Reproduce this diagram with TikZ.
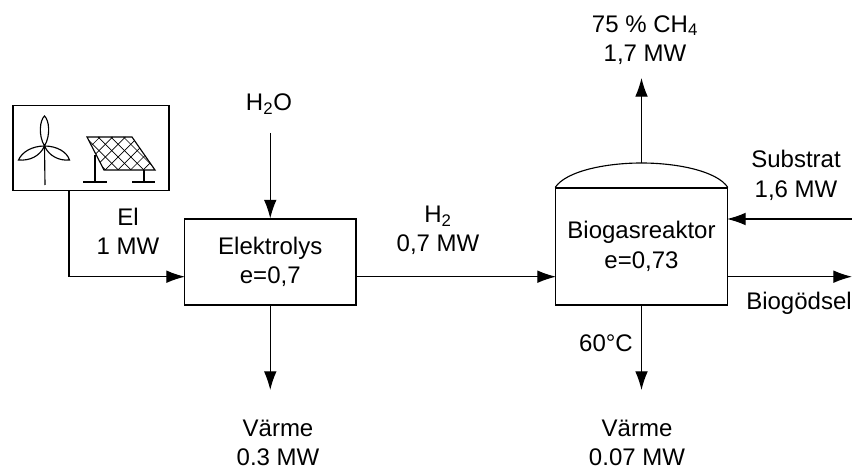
\documentclass[tikz,border=0pt]{standalone}
\usepackage{fontspec}
\setmainfont{Liberation Sans}
\usetikzlibrary{arrows.meta,positioning,calc}

\begin{document}
\begin{tikzpicture}[x=0.75pt,y=-0.75pt,>={Latex[length=14pt,width=9.5pt]},line width=0.85pt]
\tikzstyle{blk}=[draw,align=center,minimum width=128.6pt,minimum height=64.5pt,inner sep=0pt,font=\fontsize{18}{22}\selectfont]
\tikzstyle{reablk}=[blk,minimum height=87.75pt]
\tikzstyle{lbl}=[align=center,inner sep=0pt,font=\fontsize{18}{22}\selectfont]
\useasboundingbox (0,0) rectangle (852,470);
\node[blk] (ely) at (270.25,262) {Elektrolys\\e=0,7};
\node[reablk] (rea) at (641.5,246.5) {Biogasreaktor\\e=0,73};
\node[draw,minimum width=117pt,minimum height=64pt,inner sep=0pt] (src) at (91,148) {};
% labels
\node[lbl] (water) at (269,104.5) {H\textsubscript{2}O};
\node[lbl] (el) at (128,231) {El\\1 MW};
\node[lbl] (hyd) at (438,230.4) {H\textsubscript{2}\\0,7 MW};
\node[lbl] (gas) at (645,40) {75 \% CH\textsubscript{4}\\1,7 MW};
\node[lbl] (sub) at (796,175.4) {Substrat\\1,6 MW};
\node[lbl] (dig) at (799,303.7) {Biogödsel};
\node[lbl] (temp) at (606,343) {60°C};
\node[lbl] (heata) at (278,443) {Värme\\0.3 MW};
\node[lbl] (heatb) at (637,443) {Värme\\0.07 MW};
% free ends
\coordinate (srcout) at (69,190.7);
\coordinate (elyin) at (185,276.7);
\coordinate (elyout) at (356,276.7);
\coordinate (reain) at (556,276.7);
\coordinate (reaout) at (727,276.7);
\coordinate (subin) at (727,219);
\coordinate (subend) at (852,219);
\coordinate (digend) at (852,276.7);
\coordinate (watend) at (270.25,133);
\coordinate (dome) at (641.5,163);
\coordinate (gasend) at (641.5,78);
\coordinate (heataend) at (270.25,390);
\coordinate (heatbend) at (641.5,390);
% dome
\draw (rea.north west) .. controls (566,171) and (606,163) .. (dome) .. controls (677,163) and (717,171) .. (rea.north east);
% connectors
\draw[->] (srcout) |- (elyin);
\draw[->] (watend) -- (ely.north);
\draw[->] (elyout) -- (reain);
\draw[->] (dome) -- (gasend);
\draw[->] (subend) -- (subin);
\draw[->] (reaout) -- (digend);
\draw[->] (ely.south) -- (heataend);
\draw[->] (rea.south) -- (heatbend);
% wind turbine
\draw (44.5,146) -- (45,185);
\draw (44.5,146) .. controls (38,135) and (40,120) .. (44.5,116) .. controls (49,120) and (51,135) .. (44.5,146);
\draw (44.5,146) .. controls (32,146) and (22,152) .. (18.5,160) .. controls (30,161) and (40,156) .. (44.5,146);
\draw (44.5,146) .. controls (57,146) and (67,152) .. (69.5,160) .. controls (59,161) and (49,156) .. (44.5,146);
% solar panel
\begin{scope}
\clip (87,137) -- (132,137) -- (155,170) -- (104,170) -- cycle;
\foreach \i in {0,...,9} {
\draw[line width=0.5pt] (60+12.7*\i,137) -- ++(40,40);
\draw[line width=0.5pt] (60+12.7*\i,137) -- ++(40,-40);
\draw[line width=0.5pt] (60+12.7*\i,177) -- ++(40,-40);
\draw[line width=0.5pt] (60+12.7*\i,97) -- ++(40,40);
}
\end{scope}
\draw (87,137) -- (132,137) -- (155,170) -- (104,170) -- cycle;
\draw (95,155) -- (95,182);
\draw (83,182) -- (107,182);
\draw (144,170) -- (144,182);
\draw (132,182) -- (155,182);
\end{tikzpicture}
\end{document}
